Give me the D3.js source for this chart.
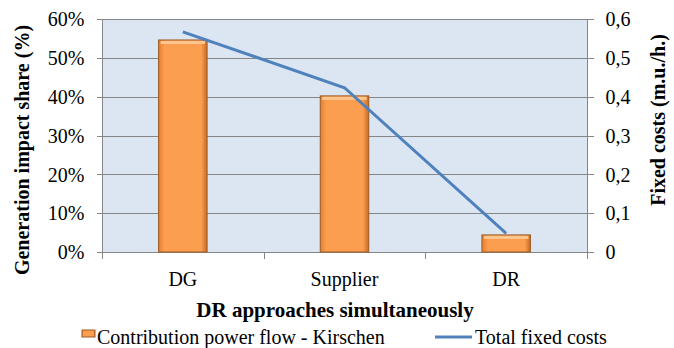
<!DOCTYPE html>
<meta charset="utf-8">
<style>
body { margin: 0; background: #fff; }
svg text { font-family: "Liberation Serif", "Times New Roman", Times, serif !important; }
.grid line { stroke: #868686; stroke-width: 1px; }
.axis path, .axis line { stroke: #868686; shape-rendering: crispEdges; }
</style>
<body>
<script src="https://cdn.jsdelivr.net/npm/d3@7"></script>
<script>
var categories = ["DG", "Supplier", "DR"];
var shareValues = [0.546, 0.402, 0.044];     // Contribution power flow - Kirschen
var costValues = [0.567, 0.423, 0.048];      // Total fixed costs
var leftTicks = [0, 0.1, 0.2, 0.3, 0.4, 0.5, 0.6];
var rightTicks = [0, 0.1, 0.2, 0.3, 0.4, 0.5, 0.6];

var width = 674, height = 348;
var plot = {left: 102, right: 587, top: 19, bottom: 252};
var serif = "Liberation Serif";

var svg = d3.select("body").append("svg")
    .attr("width", width)
    .attr("height", height)
    .attr("font-family", serif);

var defs = svg.append("defs");
var grad = defs.append("linearGradient").attr("id", "barGrad")
    .attr("x1", 0).attr("x2", 1).attr("y1", 0).attr("y2", 0);
grad.append("stop").attr("offset", "0%").attr("stop-color", "#e57e2e");
grad.append("stop").attr("offset", "12%").attr("stop-color", "#fb9e4f");
grad.append("stop").attr("offset", "88%").attr("stop-color", "#fb9e4f");
grad.append("stop").attr("offset", "100%").attr("stop-color", "#c86a24");

var x = d3.scaleBand().domain(categories).range([plot.left, plot.right]);
var yL = d3.scaleLinear().domain([0, 0.6]).range([plot.bottom, plot.top]);
var yR = d3.scaleLinear().domain([0, 0.6]).range([plot.bottom, plot.top]);

// plot background
svg.append("rect")
    .attr("x", plot.left).attr("y", plot.top)
    .attr("width", plot.right - plot.left).attr("height", plot.bottom - plot.top)
    .attr("fill", "#dce6f2");

// gridlines
svg.append("g").attr("class", "grid")
  .selectAll("line").data(leftTicks.slice(1)).join("line")
    .attr("x1", plot.left).attr("x2", plot.right)
    .attr("y1", d => Math.round(yL(d)) + 0.5).attr("y2", d => Math.round(yL(d)) + 0.5);

// left axis
var leftAxis = svg.append("g").attr("class", "axis")
    .attr("transform", "translate(" + (plot.left + 0.5) + ",0)")
    .call(d3.axisLeft(yL).tickValues(leftTicks).tickFormat(d3.format(".0%")).tickSize(6).tickPadding(12));
leftAxis.select(".domain").attr("d", "M-6," + (plot.top + 0.5) + "H0V" + (plot.bottom + 0.5));

// right axis
var rightAxis = svg.append("g").attr("class", "axis")
    .attr("transform", "translate(" + (plot.right + 0.5) + ",0)")
    .call(d3.axisRight(yR).tickValues(rightTicks).tickFormat(d => d === 0 ? "0" : d3.format(".1f")(d).replace(".", ",")).tickSize(6).tickPadding(12));
rightAxis.select(".domain").attr("d", "M6," + (plot.top + 0.5) + "H0V" + (plot.bottom + 6));

// bottom axis
var bottomAxis = svg.append("g").attr("class", "axis")
    .attr("transform", "translate(0," + (plot.bottom + 0.5) + ")")
    .call(d3.axisBottom(x).tickSize(0).tickPadding(19));
bottomAxis.select(".domain").attr("d", "M" + plot.left + ",0H" + plot.right);
bottomAxis.selectAll(".sep").data(categories.concat(["end"])).join("line")
    .attr("class", "sep")
    .attr("x1", (d, i) => Math.round(plot.left + i * x.step()) + 0.5)
    .attr("x2", (d, i) => Math.round(plot.left + i * x.step()) + 0.5)
    .attr("y1", 0).attr("y2", 6);

svg.selectAll(".axis").attr("font-family", serif).attr("font-size", 20);
svg.selectAll(".axis text").attr("fill", "#000");
leftAxis.selectAll("text").attr("dy", "0.34em");
rightAxis.selectAll("text").attr("dy", "0.34em");

// bars
var barW = x.step() * 0.3;
var bars = svg.append("g").selectAll("g").data(categories).join("g");
bars.append("rect")
    .attr("x", d => x(d) + x.step() / 2 - barW / 2)
    .attr("y", (d, i) => yL(shareValues[i]))
    .attr("width", barW)
    .attr("height", (d, i) => plot.bottom - yL(shareValues[i]))
    .attr("fill", "url(#barGrad)")
    .attr("stroke", "#9c5a24")
    .attr("stroke-width", 1);
bars.append("rect")
    .attr("x", d => x(d) + x.step() / 2 - barW / 2 + 2)
    .attr("y", (d, i) => yL(shareValues[i]) + 1)
    .attr("width", barW - 4)
    .attr("height", 3)
    .attr("fill", "#fdc58f");

// line
var line = d3.line()
    .x((d, i) => x(categories[i]) + x.step() / 2)
    .y(d => yR(d));
svg.append("path")
    .datum(costValues)
    .attr("fill", "none")
    .attr("stroke", "#4f81bd")
    .attr("stroke-width", 3)
    .attr("d", line);

// axis titles
function title(sel, size) {
  return sel.attr("font-weight", "bold").attr("font-size", size).attr("text-anchor", "middle");
}
svg.append("text").call(title, 20)
    .attr("transform", "translate(29,150) rotate(-90)")
    .text("Generation impact share (%)");
svg.append("text").call(title, 20)
    .attr("transform", "translate(665,120) rotate(-90)")
    .text("Fixed costs (m.u./h.)");
svg.append("text").call(title, 21)
    .attr("x", 335).attr("y", 317)
    .text("DR approaches simultaneously");

// legend
var legend = svg.append("g").attr("font-size", 20);
legend.append("rect")
    .attr("x", 82).attr("y", 330).attr("width", 13).attr("height", 7)
    .attr("fill", "url(#barGrad)").attr("stroke", "#9c5a24");
legend.append("text")
    .attr("x", 97).attr("y", 344)
    .text("Contribution power flow - Kirschen");
legend.append("line")
    .attr("x1", 435).attr("x2", 472).attr("y1", 337).attr("y2", 337)
    .attr("stroke", "#4f81bd").attr("stroke-width", 3);
legend.append("text")
    .attr("x", 475).attr("y", 344)
    .text("Total fixed costs");
</script>
